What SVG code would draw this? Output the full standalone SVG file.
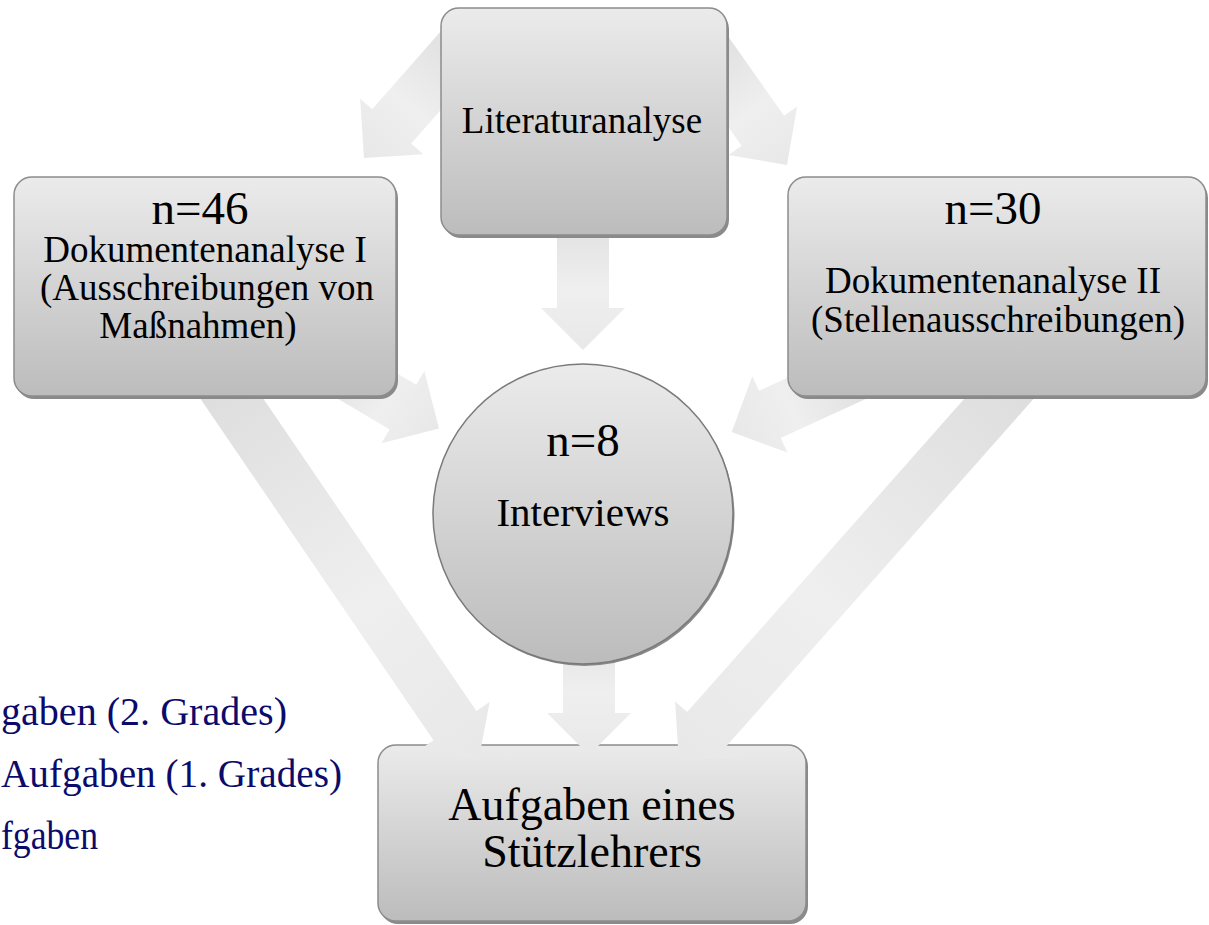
<svg xmlns="http://www.w3.org/2000/svg" width="1209" height="925" viewBox="0 0 1209 925">
<defs>
  <linearGradient id="boxFill" x1="0" y1="0" x2="0" y2="1">
    <stop offset="0" stop-color="#ebebeb"/>
    <stop offset="1" stop-color="#bcbcbc"/>
  </linearGradient>
  <linearGradient id="arrowFill" x1="0" y1="0" x2="1" y2="0">
    <stop offset="0" stop-color="#dcdcdc"/>
    <stop offset="0.6" stop-color="#efefef"/>
    <stop offset="1" stop-color="#e8e8e8"/>
  </linearGradient>
</defs>
<style>
  .box{fill:url(#boxFill);stroke:#8c8c8c;stroke-width:1.5}
  .shadow{fill:#8a8a8a}
  .arrow{fill:url(#arrowFill)}
  .t{font-family:"Liberation Serif","Times New Roman",serif;fill:#000000;text-anchor:middle}
  .blue{font-family:"Liberation Serif","Times New Roman",serif;fill:#0b0b6b;font-size:40px}
</style>
<rect width="1209" height="925" fill="#ffffff"/>

<g id="legend-text">
  <text class="blue" x="1" y="725" textLength="286" lengthAdjust="spacingAndGlyphs">gaben (2. Grades)</text>
  <text class="blue" x="1" y="787" textLength="341" lengthAdjust="spacingAndGlyphs">Aufgaben (1. Grades)</text>
  <text class="blue" x="1" y="849" textLength="97" lengthAdjust="spacingAndGlyphs">fgaben</text>
</g>

<g id="node-aufgaben">
  <rect class="shadow" x="380" y="748" width="428" height="176" rx="18"/>
  <rect class="box" x="378" y="745" width="428" height="176" rx="18"/>
  <text class="t" x="592" y="820" font-size="46">Aufgaben eines</text>
  <text class="t" x="592" y="867" font-size="46">Stützlehrers</text>
</g>

<g id="connectors">
  <path class="arrow" d="M0,-26 H128 V-42 L170,0 L128,42 V26 H0 Z" transform="translate(364,158) rotate(131.3) translate(-170,0)"/>
  <path class="arrow" d="M0,-26 H118 V-42 L160,0 L118,42 V26 H0 Z" transform="translate(787,165) rotate(54.8) translate(-160,0)"/>
  <path class="arrow" d="M0,-26 H108 V-42 L150,0 L108,42 V26 H0 Z" transform="translate(583,350) rotate(90) translate(-150,0)"/>
  <path class="arrow" d="M0,-26 H108 V-42 L150,0 L108,42 V26 H0 Z" transform="translate(439,428.5) rotate(30.7) translate(-150,0)"/>
  <path class="arrow" d="M0,-26 H118 V-42 L160,0 L118,42 V26 H0 Z" transform="translate(731.7,432) rotate(155.3) translate(-160,0)"/>
  <path class="arrow" d="M0,-26 H443 V-42 L485,0 L443,42 V26 H0 Z" transform="translate(478.6,760.4) rotate(55.7) translate(-485,0)"/>
  <path class="arrow" d="M0,-26 H493 V-42 L535,0 L493,42 V26 H0 Z" transform="translate(678.8,760.7) rotate(131.5) translate(-535,0)"/>
  <path class="arrow" d="M0,-26 H113 V-42 L155,0 L113,42 V26 H0 Z" transform="translate(589,755) rotate(90) translate(-155,0)"/>
</g>

<g id="node-literatur">
  <rect class="shadow" x="443" y="11" width="286" height="227" rx="18"/>
  <rect class="box" x="441" y="8" width="286" height="227" rx="18"/>
  <text class="t" x="582" y="133" font-size="37">Literaturanalyse</text>
</g>

<g id="node-dok1">
  <rect class="shadow" x="16" y="180" width="382" height="219" rx="18"/>
  <rect class="box" x="14" y="177" width="382" height="219" rx="18"/>
  <text class="t" x="200" y="224" font-size="47">n=46</text>
  <text class="t" x="205" y="262" font-size="37">Dokumentenanalyse I</text>
  <text class="t" x="207" y="300" font-size="37">(Ausschreibungen von</text>
  <text class="t" x="198" y="338" font-size="37">Maßnahmen)</text>
</g>

<g id="node-dok2">
  <rect class="shadow" x="790" y="180" width="418" height="219" rx="18"/>
  <rect class="box" x="788" y="177" width="418" height="219" rx="18"/>
  <text class="t" x="993" y="224" font-size="47">n=30</text>
  <text class="t" x="993" y="293" font-size="37">Dokumentenanalyse II</text>
  <text class="t" x="998" y="332" font-size="37">(Stellenausschreibungen)</text>
</g>

<g id="node-interviews">
  <circle class="shadow" cx="584.5" cy="516" r="150"/>
  <circle class="box" cx="583" cy="514" r="150" style="stroke:#7a7a7a"/>
  <text class="t" x="583" y="456" font-size="47">n=8</text>
  <text class="t" x="583" y="526" font-size="41">Interviews</text>
</g>
</svg>
